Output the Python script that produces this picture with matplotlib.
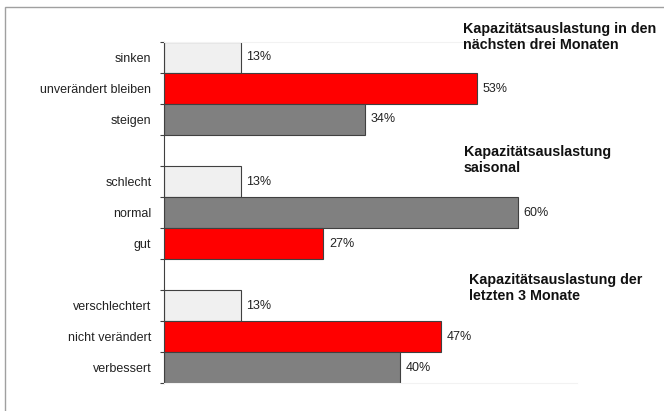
import matplotlib.pyplot as plt
from matplotlib.patches import Rectangle

plt.rcParams['font.family'] = ['Liberation Sans', 'DejaVu Sans']

# data
titles = ['Kapazitätsauslastung in den\nnächsten drei Monaten',
          'Kapazitätsauslastung\nsaisonal',
          'Kapazitätsauslastung der\nletzten 3 Monate']
labels_next = ['sinken', 'unverändert bleiben', 'steigen']
values_next = [13, 53, 34]
labels_season = ['schlecht', 'normal', 'gut']
values_season = [13, 60, 27]
labels_last = ['verschlechtert', 'nicht verändert', 'verbessert']
values_last = [13, 47, 40]

LIGHT, RED, GRAY = '#f0f0f0', '#ff0000', '#808080'
colors = [[LIGHT, RED, GRAY], [LIGHT, GRAY, RED], [LIGHT, RED, GRAY]]

groups = [(labels_next, values_next), (labels_season, values_season), (labels_last, values_last)]

W, H = 664, 411
fig = plt.figure(figsize=(W / 100, H / 100), dpi=100)
ax = fig.add_axes([164 / W, 28 / H, 413 / W, 341 / H])

ypos, ylabels = [], []
slot = 0
for g, (labs, vals) in enumerate(groups):
    ys = [slot + i for i in range(len(vals))]
    ax.barh(ys, vals, height=1.0, color=colors[g], edgecolor='#404040', linewidth=0.8)
    for y, v in zip(ys, vals):
        ax.annotate(f'{v}%', (v, y), xytext=(4, 0), textcoords='offset points',
                    va='center', ha='left', fontsize=9, color='#222222')
    ypos += ys
    ylabels += labs
    slot += len(vals) + 1

ax.set_xlim(0, 70)
ax.set_ylim(10.5, -0.5)
ax.set_yticks(ypos)
ax.set_yticklabels(ylabels, fontsize=9, color='#222222')
ax.tick_params(axis='y', which='major', length=0, pad=9)
ax.set_yticks([i - 0.5 for i in range(12)], minor=True)
ax.tick_params(axis='y', which='minor', length=3, width=0.8, color='#404040')
ax.set_xticks([])

ax.spines['right'].set_visible(False)
ax.spines['left'].set_color('#404040')
ax.spines['left'].set_linewidth(0.8)
for s in ('top', 'bottom'):
    ax.spines[s].set_color('#f2f2f2')
    ax.spines[s].set_linewidth(0.8)

# group titles
title_pos = [(463, 37), (464, 160), (469, 288)]
for t, (tx, ty) in zip(titles, title_pos):
    fig.text(tx / W, 1 - ty / H, t, ha='left', va='center', fontsize=10.3,
             fontweight='bold', color='#111111', linespacing=1.2)

# outer frame (cut at right/bottom)
fig.patches.append(Rectangle((5 / W, -0.05), 1.0, 1.05 - 7 / H, fill=False,
                             edgecolor='#a0a0a0', linewidth=1.0,
                             transform=fig.transFigure, clip_on=False))

fig.savefig('out.png', dpi=100)
